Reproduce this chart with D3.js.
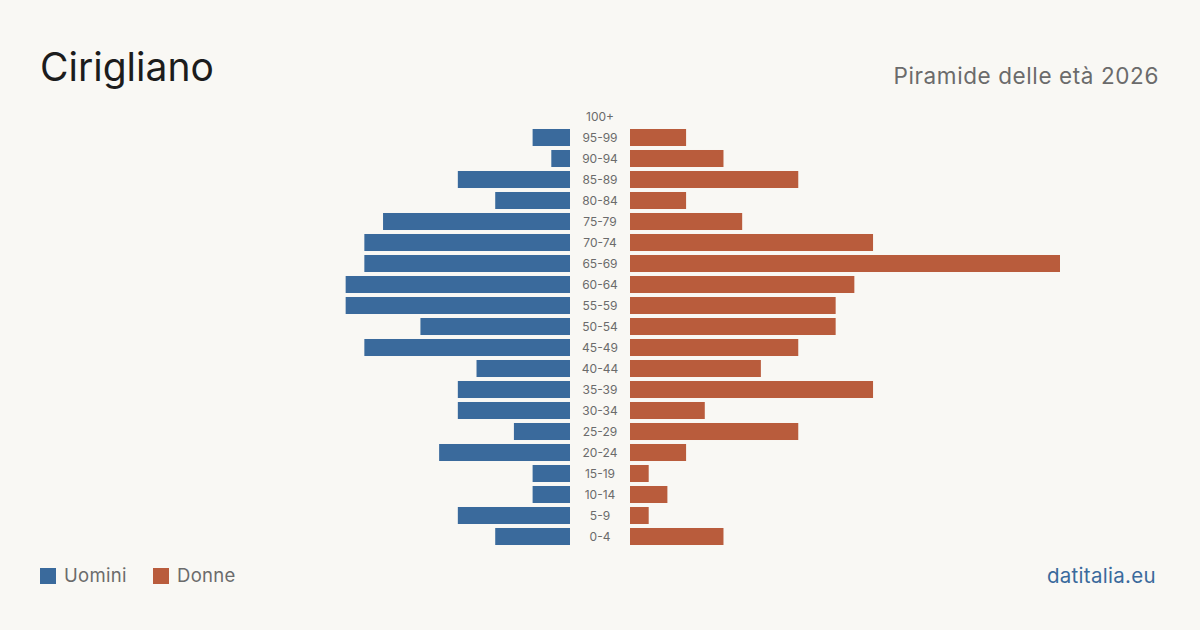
<!DOCTYPE html>
<html>
<head>
<meta charset="utf-8">
<script src="https://cdn.jsdelivr.net/npm/d3@7"></script>
<style>
  html, body { margin: 0; padding: 0; background: #f9f8f4; }
  svg { display: block; font-family: Inter, "Noto Sans", sans-serif; }
</style>
</head>
<body>
<script>
// age classes, top to bottom
var ageGroups = ["100+", "95-99", "90-94", "85-89", "80-84", "75-79", "70-74", "65-69", "60-64", "55-59",
  "50-54", "45-49", "40-44", "35-39", "30-34", "25-29", "20-24", "15-19", "10-14", "5-9", "0-4"];
var men   = [0, 2, 1, 6, 4, 10, 11, 11, 12, 12, 8, 11, 5, 6, 6, 3, 7, 2, 2, 6, 4];
var women = [0, 3, 5, 9, 3, 6, 13, 23, 12, 11, 11, 9, 7, 13, 4, 9, 3, 1, 2, 1, 5];
var legendLabels = ["Uomini", "Donne"];

var width = 1200, height = 630;
var blue = "#3a6a9c", orange = "#b95c3c";

var svg = d3.select("body").append("svg")
  .attr("width", width)
  .attr("height", height);

svg.append("rect").attr("width", width).attr("height", height).attr("fill", "#f9f8f4");

var maxVal = d3.max(men.concat(women));

// both sides share the same length scale
var xLen = d3.scaleLinear().domain([0, maxVal]).range([0, 430]);
var y = d3.scaleBand().domain(ageGroups).range([106, 547]).paddingInner(0.19).paddingOuter(0.095);

var leftEdge = 570, rightEdge = 630;

svg.selectAll("rect.men")
  .data(ageGroups)
  .enter().append("rect")
  .attr("class", "men")
  .attr("x", function(d, i) { return leftEdge - xLen(men[i]); })
  .attr("y", function(d) { return y(d); })
  .attr("width", function(d, i) { return xLen(men[i]); })
  .attr("height", y.bandwidth())
  .attr("fill", blue);

svg.selectAll("rect.women")
  .data(ageGroups)
  .enter().append("rect")
  .attr("class", "women")
  .attr("x", rightEdge)
  .attr("y", function(d) { return y(d); })
  .attr("width", function(d, i) { return xLen(women[i]); })
  .attr("height", y.bandwidth())
  .attr("fill", orange);

// age labels in the middle gap
svg.selectAll("text.age")
  .data(ageGroups)
  .enter().append("text")
  .attr("class", "age")
  .attr("x", (leftEdge + rightEdge) / 2)
  .attr("y", function(d) { return y(d) + y.bandwidth() / 2; })
  .attr("dy", "0.35em")
  .attr("text-anchor", "middle")
  .attr("font-size", 12)
  .attr("fill", "#6b6b6b")
  .text(function(d) { return d; });

// title + subtitle
svg.append("text")
  .attr("x", 40).attr("y", 81)
  .attr("font-size", 39)
  .attr("fill", "#1c1c1c")
  .text("Cirigliano");

svg.append("text")
  .attr("x", 1159).attr("y", 84)
  .attr("text-anchor", "end")
  .attr("font-size", 22.5)
  .attr("letter-spacing", 0.6)
  .attr("fill", "#6b6b6b")
  .text("Piramide delle età 2026");

// legend
var legend = svg.selectAll("g.legend")
  .data(legendLabels)
  .enter().append("g")
  .attr("class", "legend")
  .attr("transform", function(d, i) { return "translate(" + (40 + i * 113) + ",568)"; });

legend.append("rect")
  .attr("width", 16).attr("height", 16)
  .attr("fill", function(d, i) { return i === 0 ? blue : orange; });

legend.append("text")
  .attr("x", 24).attr("y", 8)
  .attr("dy", "0.35em")
  .attr("font-size", 18.5)
  .attr("letter-spacing", 0.3)
  .attr("fill", "#6b6b6b")
  .text(function(d) { return d; });

svg.append("text")
  .attr("x", 1156).attr("y", 583)
  .attr("text-anchor", "end")
  .attr("font-size", 20.5)
  .attr("letter-spacing", 0.3)
  .attr("fill", blue)
  .text("datitalia.eu");
</script>
</body>
</html>
